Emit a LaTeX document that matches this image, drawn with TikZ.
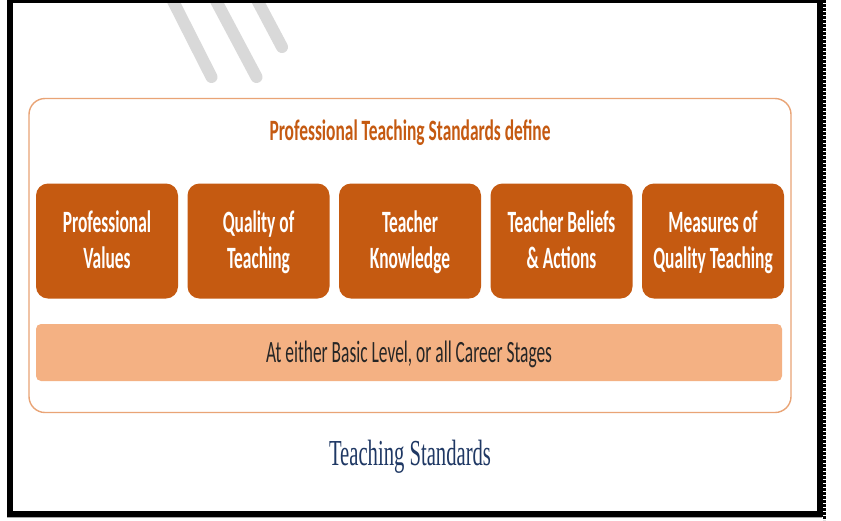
\documentclass[tikz,border=0pt]{standalone}
\usepackage{fontspec}
\usepackage{graphicx}
\newfontfamily\calfont{Carlito}
\newfontfamily\serfont{Liberation Serif}
\definecolor{boxorange}{HTML}{C55A11}
\definecolor{barorange}{HTML}{F4B183}
\definecolor{frameorange}{HTML}{E9A476}
\definecolor{navy}{HTML}{1F3864}
\definecolor{stripegray}{HTML}{D9D9D9}
\definecolor{bartext}{HTML}{262626}
\newsavebox\measbox
\newcommand\hsq[1]{\scalebox{\boxratio}[1]{#1}}
\newcommand\twoline[2]{\hsq{\rule{0pt}{24pt}#1}\\\hsq{#2\rule[-5pt]{0pt}{5pt}}}
\begin{document}
% measurements for horizontal condensing (outside the picture, where fonts are active)
\sbox\measbox{\calfont\bfseries\fontsize{29.5}{36}\selectfont Professional Teaching Standards define}%
\pgfmathsetmacro\hratio{281/\the\wd\measbox}%
\sbox\measbox{\calfont\bfseries\fontsize{31}{36}\selectfont Quality Teaching}%
\pgfmathsetmacro\boxratio{119.5/\the\wd\measbox}%
\sbox\measbox{\calfont\fontsize{31}{36}\selectfont At either Basic Level, or all Career Stages}%
\pgfmathsetmacro\bratio{286/\the\wd\measbox}%
\sbox\measbox{\serfont\fontsize{36.6}{40}\selectfont Teaching Standards}%
\pgfmathsetmacro\cratio{162/\the\wd\measbox}%
\begin{tikzpicture}[x=1pt,y=-1pt,
  stdbox/.style={fill=boxorange, rounded corners=12pt, minimum width=142pt,
    minimum height=115pt, inner sep=0pt, text=white, align=center,
    font=\calfont\bfseries\fontsize{31}{36}\selectfont},
  stripe/.style={stripegray, line width=12pt, line cap=round},
  container/.style={draw=frameorange, line width=1.4pt, rounded corners=16pt,
    minimum width=762pt, minimum height=314pt, inner sep=0pt},
  levelbar/.style={fill=barorange, rounded corners=5pt, minimum width=746pt,
    minimum height=57pt, inner sep=0pt, text=bartext, text height=25.6pt,
    text depth=6pt, font=\calfont\fontsize{31}{36}\selectfont},
  titletext/.style={anchor=base, text=boxorange, inner sep=0pt,
    font=\calfont\bfseries\fontsize{29.5}{36}\selectfont},
  captiontext/.style={anchor=base, text=navy, inner sep=0pt,
    font=\serfont\fontsize{36.6}{40}\selectfont}]
\useasboundingbox (0,0) rectangle (841,520);
\fill[white] (0,0) rectangle (841,520);
% gray stripes
\draw[stripe] (171,-3) -- (211.5,77);
\draw[stripe] (214,-3) -- (256.5,77);
\draw[stripe] (255.5,-3) -- (282,47);
% outer frame
\draw[gray!70, line width=0.8pt] (6.9,0) -- (6.9,517.4) -- (822,517.4);
\draw[black, line width=6pt] (10.3,0.3) rectangle (819.8,513.7);
\draw[black, line width=3pt, dash pattern=on 2.7pt off 1.3pt] (824.2,0) -- (824.2,520);
% container
\node[container] (frame) at (410,255.5) {};
\node[titletext] (title) at (410,140) {\scalebox{\hratio}[1]{Professional Teaching Standards define}};
% five boxes
\node[stdbox] (b1) at (107,241) {\twoline{Professional}{Values}};
\node[stdbox] (b2) at (258.5,241) {\twoline{Quality of}{Teaching}};
\node[stdbox] (b3) at (410,241) {\twoline{Teacher}{Knowledge}};
\node[stdbox] (b4) at (561.5,241) {\twoline{Teacher Beliefs}{\& Actions}};
\node[stdbox] (b5) at (713,241) {\twoline{Measures of}{Quality Teaching}};
% bar
\node[levelbar] (bar) at (409,352.5) {\scalebox{\bratio}[1]{At either Basic Level, or all Career Stages}};
% caption
\node[captiontext] (caption) at (410,465.7) {\scalebox{\cratio}[1]{Teaching Standards}};
\end{tikzpicture}
\end{document}
